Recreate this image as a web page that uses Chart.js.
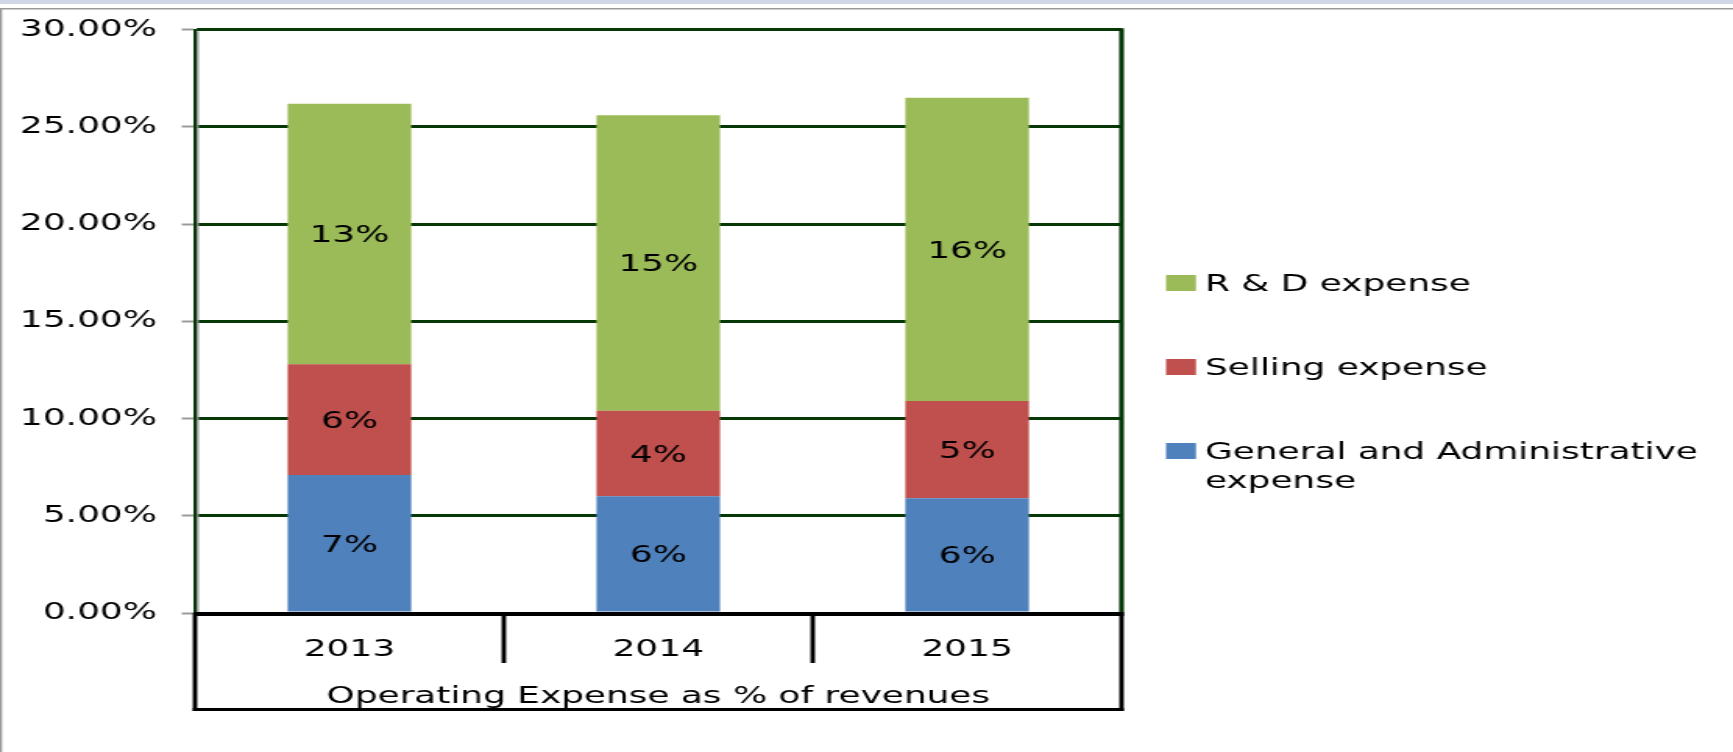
<!DOCTYPE html>
<html>
<head>
<meta charset="utf-8">
<script src="https://cdn.jsdelivr.net/npm/chart.js@4.4.1/dist/chart.umd.min.js"></script>
<style>
  html, body { margin: 0; padding: 0; background: #fff; overflow: hidden; }
</style>
</head>
<body>
<!-- the original picture is stretched sideways, so the canvas is drawn narrow and widened by css -->
<canvas id="chart" width="1111" height="752" style="width:1733px;height:752px"></canvas>
<script>
const years = ['2013', '2014', '2015'];
const generalAdmin = [7.1, 6.0, 5.9];
const selling = [5.7, 4.4, 5.0];
const research = [13.4, 15.2, 15.6];
const yTicks = [0, 5, 10, 15, 20, 25, 30];
const seriesNames = ['General and Administrative expense', 'Selling expense', 'R & D expense'];
const seriesColors = ['#4F81BD', '#C0504D', '#9BBB59'];
const axisTitle = 'Operating Expense as % of revenues';

const FRAME = '#063806';
const FONT = 'DejaVu Sans';
const SIZE = 23;

function line(ctx, x1, y1, x2, y2) {
  ctx.beginPath();
  ctx.moveTo(x1, y1);
  ctx.lineTo(x2, y2);
  ctx.stroke();
}

// splits a legend text in lines no wider than max
function wrap(ctx, text, max) {
  const words = text.split(' ');
  const lines = [];
  let cur = '';
  words.forEach(w => {
    const test = cur ? cur + ' ' + w : w;
    if (ctx.measureText(test).width > max && cur) {
      lines.push(cur);
      cur = w;
    } else {
      cur = test;
    }
  });
  lines.push(cur);
  return lines;
}

const decor = {
  id: 'decor',
  beforeDraw(chart) {
    const ctx = chart.ctx;
    ctx.save();
    ctx.fillStyle = '#cfd7e6';
    ctx.fillRect(0, 0, chart.width, 4);
    ctx.fillStyle = '#9a9a9a';
    ctx.fillRect(0, 8, chart.width, 1.5);
    ctx.fillRect(0, 8, 1.3, chart.height);
    ctx.restore();
  },
  afterDatasetsDraw(chart) {
    const ctx = chart.ctx;
    const area = chart.chartArea;
    const x = chart.scales.x;
    ctx.save();

    // right edge of the plot frame
    ctx.strokeStyle = FRAME;
    ctx.lineWidth = 3.1;
    line(ctx, area.right, area.top - 1.5, area.right, area.bottom);
    // grey shade beside the left axis
    ctx.strokeStyle = '#8c8c8c';
    ctx.lineWidth = 1.3;
    line(ctx, area.left + 1.8, area.top + 1.5, area.left + 1.8, area.bottom);

    // labels inside the bars
    ctx.fillStyle = '#000';
    ctx.font = SIZE + 'px "' + FONT + '"';
    ctx.textAlign = 'center';
    ctx.textBaseline = 'alphabetic';
    chart.data.datasets.forEach((ds, i) => {
      chart.getDatasetMeta(i).data.forEach((bar, j) => {
        ctx.fillText(Math.round(ds.data[j]) + '%', bar.x, (bar.y + bar.base) / 2 + 8.4);
      });
    });

    // boxes round the category labels
    ctx.strokeStyle = '#000';
    ctx.lineWidth = 4;
    line(ctx, area.left - 1, area.bottom + 1, area.right + 1.5, area.bottom + 1);
    const step = x.getPixelForValue(1) - x.getPixelForValue(0);
    ctx.lineWidth = 2.9;
    for (let i = 0; i <= years.length; i++) {
      const px = x.getPixelForValue(i) - step / 2;
      const end = (i === 0 || i === years.length) ? x.bottom : x.top + 50;
      line(ctx, px, area.bottom, px, end);
    }
    ctx.lineWidth = 3;
    line(ctx, area.left - 1.4, x.bottom - 1.5, area.right + 1.4, x.bottom - 1.5);

    // legend, top item is the last series
    ctx.textAlign = 'left';
    let cy = 283;
    chart.data.datasets.slice().reverse().forEach(ds => {
      ctx.fillStyle = ds.backgroundColor;
      ctx.fillRect(747.5, cy - 8, 19.2, 16);
      ctx.fillStyle = '#000';
      wrap(ctx, ds.label, 340).forEach((t, k) => {
        ctx.fillText(t, 772.5, cy + 8.4 + k * 29);
      });
      cy += 84;
    });
    ctx.restore();
  }
};

Chart.defaults.font.family = FONT;
Chart.defaults.font.size = SIZE;
Chart.defaults.color = '#000';

const ctx = document.getElementById('chart').getContext('2d');

new Chart(ctx, {
  type: 'bar',
  data: {
    labels: years,
    datasets: [
      { label: seriesNames[0], data: generalAdmin, backgroundColor: seriesColors[0] },
      { label: seriesNames[1], data: selling, backgroundColor: seriesColors[1] },
      { label: seriesNames[2], data: research, backgroundColor: seriesColors[2] }
    ]
  },
  options: {
    responsive: false,
    devicePixelRatio: 1,
    animation: false,
    datasets: {
      bar: { categoryPercentage: 1, barPercentage: 0.4 }
    },
    layout: {
      padding: { left: 0, right: 392, top: 24, bottom: 41 }
    },
    plugins: {
      legend: { display: false },
      tooltip: { enabled: false }
    },
    scales: {
      x: {
        stacked: true,
        grid: { display: false, drawTicks: false },
        border: { display: false },
        ticks: { padding: 23 },
        title: { display: true, text: axisTitle, padding: { top: 0, bottom: 0 } },
        afterFit: s => { s.height = 98; }
      },
      y: {
        stacked: true,
        min: 0,
        max: 30,
        afterBuildTicks: s => { s.ticks = yTicks.map(v => ({ value: v })); },
        ticks: {
          padding: 16,
          callback: v => v.toFixed(2) + '%'
        },
        grid: {
          color: FRAME,
          lineWidth: 3,
          tickColor: '#9a9a9a',
          tickWidth: 2,
          tickLength: 8.5
        },
        border: { display: true, color: FRAME, width: 2.1 },
        afterFit: s => { s.width = 125; }
      }
    }
  },
  plugins: [decor]
});
</script>
</body>
</html>
